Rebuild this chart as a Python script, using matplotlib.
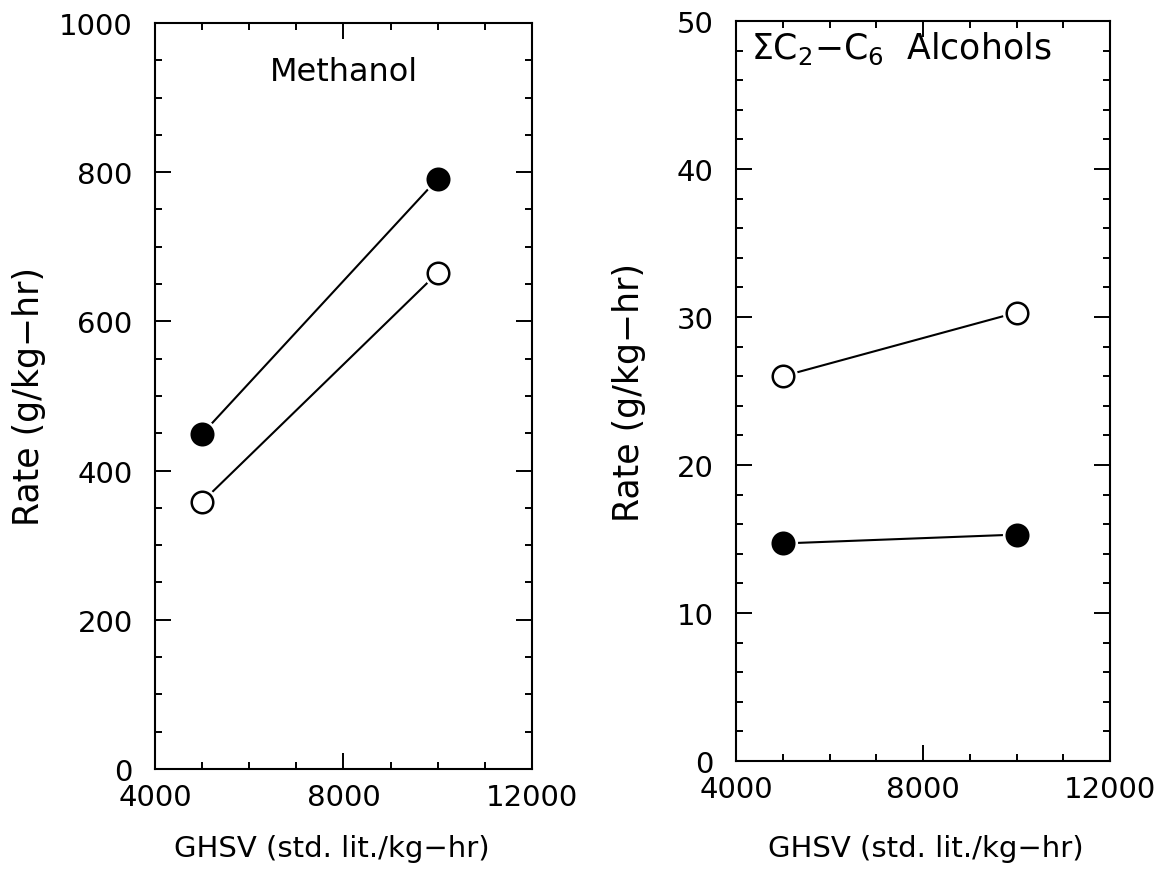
import matplotlib.pyplot as plt
from matplotlib.ticker import MultipleLocator

# GHSV (std. lit./kg-hr)
ghsv = [5000, 10000]

# methanol rate, g/kg-hr
meoh_filled = [449, 791]
meoh_open = [358, 665]

# sum of C2-C6 alcohols, g/kg-hr
alc_open = [26.0, 30.3]
alc_filled = [14.7, 15.3]

plt.rcParams['font.family'] = ['DejaVu Sans']

fig = plt.figure(figsize=(11.65, 8.7), dpi=100)
ax1 = fig.add_axes([0.133, 0.115, 0.3236, 0.8575])
ax2 = fig.add_axes([0.6318, 0.1241, 0.321, 0.8506])


def series(ax, x, y, filled):
    ax.plot(x, y, color='k', lw=1.5, zorder=2)
    # white halo so the line stops short of each marker
    ax.plot(x, y, ls='none', marker='o', ms=20, mfc='white', mec='white', zorder=3)
    ax.plot(x, y, ls='none', marker='o', ms=15.5, mec='k', mew=1.8,
            mfc='k' if filled else 'white', zorder=4)


def style(ax, ymax, ymajor, yminor, ylab_x, xlab_x, xlab_y):
    ax.set_xlim(4000, 12000)
    ax.set_ylim(0, ymax)
    ax.xaxis.set_major_locator(MultipleLocator(4000))
    ax.xaxis.set_minor_locator(MultipleLocator(1000))
    ax.yaxis.set_major_locator(MultipleLocator(ymajor))
    ax.yaxis.set_minor_locator(MultipleLocator(yminor))
    ax.tick_params(which='both', direction='in', top=True, right=True, width=1.4)
    ax.tick_params(which='major', length=11.5, labelsize=21)
    ax.tick_params(axis='x', which='major', pad=10)
    ax.tick_params(axis='y', which='major', pad=16)
    ax.tick_params(which='minor', length=5)
    for s in ax.spines.values():
        s.set_linewidth(1.5)
    ax.set_xlabel('GHSV (std. lit./kg\u2212hr)', fontsize=21, va='center')
    ax.set_ylabel('Rate (g/kg\u2212hr)', fontsize=25, va='center')
    ax.xaxis.set_label_coords(xlab_x, xlab_y)
    ax.yaxis.set_label_coords(ylab_x, 0.5)


series(ax1, ghsv, meoh_filled, True)
series(ax1, ghsv, meoh_open, False)
style(ax1, 1000, 200, 50, -0.334, 0.47, -0.106)
ax1.text(0.5, 0.924, 'Methanol', transform=ax1.transAxes, ha='center',
         va='baseline', fontsize=23)

series(ax2, ghsv, alc_open, False)
series(ax2, ghsv, alc_filled, True)
style(ax2, 50, 10, 2, -0.286, 0.507, -0.118)
ax2.text(0.04, 0.95, r'$\Sigma$C$_2$$-$C$_6$  Alcohols', transform=ax2.transAxes,
         ha='left', va='baseline', fontsize=25)

fig.savefig('out.png', dpi=100)
